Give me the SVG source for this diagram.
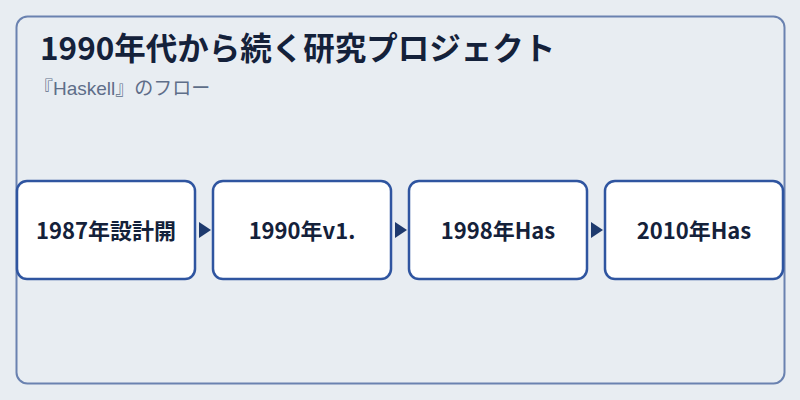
<svg xmlns="http://www.w3.org/2000/svg" width="800" height="400" viewBox="0 0 800 400">
<style>
.title{font-family:"Noto Sans CJK JP","Noto Sans",sans-serif;font-size:31.5px;font-weight:700;fill:#14213a}
.sub{font-family:"Liberation Sans","Noto Sans CJK JP",sans-serif;font-size:19px;fill:#5e6e89}
.box{fill:#ffffff;stroke:#2f55a0;stroke-width:2.5}
.lbl{font-family:"Noto Sans CJK JP","Noto Sans",sans-serif;font-size:22px;font-weight:700;fill:#14213a;text-anchor:middle}
.edge{fill:none;stroke:none}
</style>
<defs>
<marker id="ah" viewBox="0 0 12 16" refX="12" refY="8" markerWidth="12" markerHeight="16" markerUnits="userSpaceOnUse" orient="auto">
<path d="M0,0 L12,8 L0,16 Z" fill="#1e3a6e"/>
</marker>
</defs>
<rect x="0" y="0" width="800" height="400" fill="#e8edf2"/>
<rect x="16.5" y="16.5" width="768" height="367" rx="11" fill="#e8edf2" stroke="#6a82b0" stroke-width="2"/>
<text class="title" x="40" y="60">1990年代から続く研究プロジェクト</text>
<text class="sub" x="34" y="95">『Haskell』のフロー</text>
<g id="connectors">
<path class="edge" d="M196,230 L211,230" marker-end="url(#ah)"/>
<path class="edge" d="M392,230 L407,230" marker-end="url(#ah)"/>
<path class="edge" d="M588,230 L603,230" marker-end="url(#ah)"/>
</g>
<g id="node1"><rect class="box" x="17" y="181" width="178" height="98" rx="10"/><text class="lbl" x="106" y="238.5">1987年設計開</text></g>
<g id="node2"><rect class="box" x="213" y="181" width="178" height="98" rx="10"/><text class="lbl" x="302" y="238.5">1990年v1.</text></g>
<g id="node3"><rect class="box" x="409" y="181" width="178" height="98" rx="10"/><text class="lbl" x="498" y="238.5">1998年Has</text></g>
<g id="node4"><rect class="box" x="605" y="181" width="178" height="98" rx="10"/><text class="lbl" x="694" y="238.5">2010年Has</text></g>
</svg>
